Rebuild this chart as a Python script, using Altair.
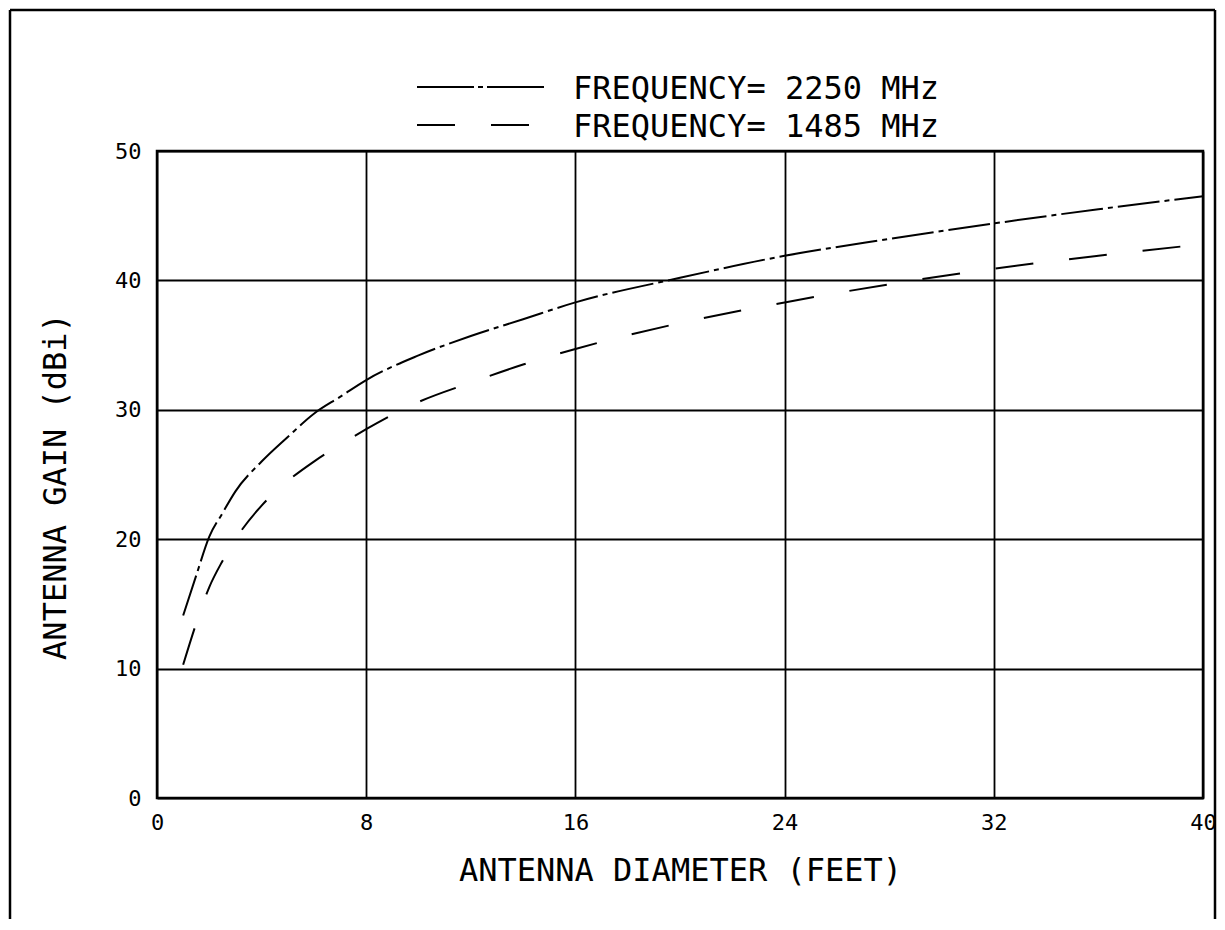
import altair as alt
import pandas as pd

# Antenna diameter (feet) and gain (dBi)
diam = [1, 1.5, 2, 2.5, 3, 4, 5, 6, 7, 8, 10, 12, 14, 16, 20, 24, 28, 32, 36, 40]
gain_2250 = [14.1, 17.2, 20.2, 22.0, 23.7, 26.0, 27.9, 29.7, 31.0, 32.3,
             34.2, 35.7, 37.0, 38.3, 40.2, 41.9, 43.2, 44.4, 45.5, 46.5]
gain_1485 = [10.3, 13.5, 16.3, 18.3, 20.0, 22.6, 24.5, 26.0, 27.3, 28.5,
             30.6, 32.1, 33.5, 34.7, 36.7, 38.3, 39.7, 40.9, 41.9, 42.8]
series = ["FREQUENCY= 2250 MHz", "FREQUENCY= 1485 MHz"]
dashes = [[42, 5, 5, 5], [38, 36]]
legend_dashes = [[57, 4, 5, 4], [38, 36]]
x_ticks = [0, 8, 16, 24, 32, 40]
y_ticks = [0, 10, 20, 30, 40, 50]

rows = []
for d, g in zip(diam, gain_2250):
    rows.append({"d": d, "g": g, "s": series[0]})
for d, g in zip(diam, gain_1485):
    rows.append({"d": d, "g": g, "s": series[1]})
df = pd.DataFrame(rows)

FONT = "DejaVu Sans Mono"
W, H = 1046, 647

lines = alt.Chart(df).mark_line(color="black", strokeWidth=2, interpolate="monotone").encode(
    x=alt.X("d:Q", scale=alt.Scale(domain=[0, 40], nice=False),
            axis=alt.Axis(values=x_ticks, title="ANTENNA DIAMETER  (FEET)",
                          titleX=W / 2, titleY=72, titleBaseline="middle",
                          titleAlign="center", labelPadding=14, labelFlush=False)),
    y=alt.Y("g:Q", scale=alt.Scale(domain=[0, 50], nice=False),
            axis=alt.Axis(values=y_ticks, title="ANTENNA GAIN  (dBi)",
                          titleX=-102, titleY=335, titleBaseline="middle",
                          titleAlign="center", titleAngle=-90, labelPadding=16)),
    strokeDash=alt.StrokeDash("s:N", sort=series,
                              scale=alt.Scale(domain=series, range=dashes),
                              legend=None),
    order="d:Q",
)

# Legend drawn as a small key block above the plot
leg_layers = []
for i, (name, dash) in enumerate(zip(series, legend_dashes)):
    yc = -64 + 38 * i
    ldata = alt.Data(values=[{"s": name}])
    leg_layers.append(
        alt.Chart(ldata).mark_rule(color="black", strokeWidth=2, strokeDash=dash).encode(
            x=alt.value(260), x2=alt.value(390), y=alt.value(yc)))
    leg_layers.append(
        alt.Chart(ldata).mark_text(font=FONT, fontSize=32, color="black",
                                   align="left", baseline="middle").encode(
            x=alt.value(416), y=alt.value(yc + 2), text="s:N"))

frame_data = alt.Data(values=[{"k": 1}])
top_rule = alt.Chart(frame_data).mark_rule(color="black", strokeWidth=2.5).encode(
    x=alt.value(-147), x2=alt.value(1058), y=alt.value(-141))
left_rule = alt.Chart(frame_data).mark_rule(color="black", strokeWidth=2.5).encode(
    x=alt.value(-147), y=alt.value(-141), y2=alt.value(768))
right_rule = alt.Chart(frame_data).mark_rule(color="black", strokeWidth=2.5).encode(
    x=alt.value(1058), y=alt.value(-141), y2=alt.value(768))

chart = alt.layer(lines, *leg_layers, top_rule, left_rule, right_rule).properties(
    width=W, height=H, padding=0, background="white"
).configure_view(
    stroke="black", strokeWidth=2.5
).configure_axis(
    grid=True, gridColor="black", gridWidth=1.8, gridOpacity=1,
    domain=False, ticks=False, tickSize=0,
    labelFont=FONT, labelFontSize=22, labelColor="black",
    titleFont=FONT, titleFontSize=32, titleColor="black", titleFontWeight="normal",
)

chart.save("out.html", embed_options={"renderer": "svg", "actions": False})
